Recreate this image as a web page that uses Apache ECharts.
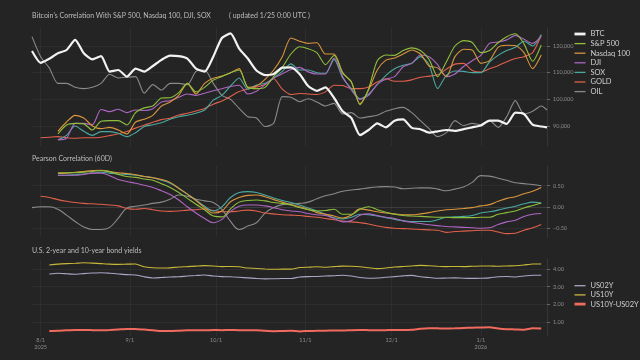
<!DOCTYPE html>
<html><head><meta charset="utf-8">
<script src="https://cdn.jsdelivr.net/npm/echarts@6/dist/echarts.min.js"></script>
<style>html,body{margin:0;padding:0;background:#242424;}#c{width:640px;height:360px;}</style>
</head><body><div id="c"></div>
<script>
// ---------- data ----------
const dates = ['2025-07-29','2025-08-01','2025-08-04','2025-08-07','2025-08-10','2025-08-13','2025-08-16','2025-08-19','2025-08-22','2025-08-25','2025-08-28','2025-08-31','2025-09-03','2025-09-06','2025-09-09','2025-09-12','2025-09-15','2025-09-18','2025-09-21','2025-09-24','2025-09-27','2025-09-30','2025-10-03','2025-10-06','2025-10-09','2025-10-12','2025-10-15','2025-10-18','2025-10-21','2025-10-24','2025-10-27','2025-10-30','2025-11-02','2025-11-05','2025-11-08','2025-11-11','2025-11-14','2025-11-17','2025-11-20','2025-11-23','2025-11-26','2025-11-29','2025-12-02','2025-12-05','2025-12-08','2025-12-11','2025-12-14','2025-12-17','2025-12-20','2025-12-23','2025-12-26','2025-12-29','2026-01-01','2026-01-04','2026-01-07','2026-01-10','2026-01-13','2026-01-16','2026-01-19','2026-01-22','2026-01-24'];

// price panel (BTC in USD, others rebased onto BTC scale)
const btc = [118100,113700,115200,117300,118500,122300,117300,115000,116200,110400,111000,108500,111500,110400,112500,114800,116400,116200,115300,111500,110400,116000,123000,124700,119000,115300,110800,109100,109500,111900,112000,109500,105000,103200,104500,100500,95500,93000,86600,88500,91000,89500,92000,92500,89300,88800,87500,88000,88500,88200,88800,89500,90200,92000,92000,90800,95000,94500,90500,89800,89500];
const spx = [null,null,null,87000,90400,91000,90800,88500,91800,92000,92000,90400,95000,96800,97500,100500,100600,102500,106000,102800,104500,107200,108600,110000,111000,104500,104000,104500,108500,112000,117000,119700,119000,117500,113000,116500,110000,106500,98000,104000,114500,116600,116500,118300,119300,118300,115000,108500,114000,120000,122000,121300,117500,118300,121200,123500,124600,120800,114300,120400,null];
const ndx = [null,null,null,88000,91500,94000,93000,90000,89000,89500,88500,87000,91500,92500,94000,97500,99000,101500,106000,102000,106000,107900,108700,110000,111500,104500,105000,107500,111000,116000,123000,121800,121000,121200,117000,117000,109800,106500,98300,103500,111000,114700,115500,117000,118500,117000,112500,111800,108500,116000,118800,118500,113500,114500,119500,120300,120200,117500,111500,116600,null];
const dji = [null,null,null,84800,85400,91000,91000,90500,96200,95400,96300,95000,96000,95800,96500,99000,99500,100800,102000,101500,102300,103200,104000,104800,105300,102000,103000,105500,108000,109600,111200,112000,110300,109500,109500,115500,108500,103500,100000,101500,105600,107500,108500,112200,113500,116600,116000,113000,108500,109500,112300,114500,116500,121000,121500,122300,124000,122500,121000,123500,null];
const sox = [null,null,null,84800,86500,90000,88000,86500,87900,87900,87300,86000,87500,89800,90500,91200,92500,93500,94000,94800,96000,99700,101500,105000,108000,103800,105400,106000,108000,110500,113300,111000,111000,110000,109800,115000,108000,104000,100200,102000,105500,109000,111500,112800,113500,116000,113000,104000,109000,110600,110500,110000,110000,114000,116500,118300,119500,121800,120000,124300,null];
const gold = [null,85600,85800,86000,85600,85400,85600,85600,85800,86400,87100,87900,89200,90300,91400,92400,92900,94100,94800,95600,96600,98200,99400,101100,102900,103900,104600,105600,107700,103800,101800,102200,102000,101800,102800,105300,105200,104000,104000,104600,106500,107700,106800,106800,107300,108300,108700,109200,111300,113200,113500,110800,110200,111500,112600,114100,115300,116000,117500,124000,null];
const oil = [123500,116000,111800,106000,106000,104500,104000,104500,106000,109400,108000,108300,108500,102300,105500,103500,106000,106000,105500,110500,111000,106000,101500,100000,96600,93500,93000,89800,91000,101000,100800,99100,100200,99000,97500,98500,94500,95000,93000,93500,94000,95500,96500,97000,95000,92000,89000,86000,87500,92000,90200,91000,90500,92000,89500,93500,99500,94500,95500,97500,96000];

// Pearson correlation (60D) with BTC
const corrSpx = [null,null,null,0.81,0.81,0.81,0.82,0.84,0.86,0.83,0.77,0.72,0.70,0.66,0.63,0.55,0.46,0.34,0.20,0.06,-0.07,-0.22,-0.24,-0.05,0.11,0.15,0.16,0.14,0.10,0.08,0.04,-0.02,-0.07,-0.10,-0.09,-0.06,-0.18,-0.18,-0.06,0.0,-0.07,-0.13,-0.18,-0.21,-0.22,-0.23,-0.24,-0.25,-0.25,-0.26,-0.26,-0.26,-0.25,-0.25,-0.18,-0.14,-0.10,-0.03,0.03,0.09,null];
const corrNdx = [null,null,null,0.79,0.80,0.82,0.84,0.86,0.87,0.84,0.81,0.79,0.76,0.72,0.69,0.65,0.58,0.44,0.30,0.15,-0.02,-0.15,-0.10,0.12,0.22,0.27,0.28,0.24,0.17,0.11,0.05,0.0,-0.06,-0.14,-0.18,-0.22,-0.27,-0.20,-0.05,-0.08,-0.12,-0.15,-0.17,-0.19,-0.19,-0.17,-0.14,-0.10,-0.07,-0.06,-0.04,-0.02,0.02,0.05,0.13,0.20,0.24,0.31,0.37,0.46,null];
const corrDji = [null,null,null,0.75,0.75,0.75,0.77,0.80,0.80,0.74,0.65,0.60,0.56,0.51,0.46,0.38,0.29,0.16,0.0,-0.15,-0.28,-0.38,-0.30,-0.11,0.01,0.04,0.04,0.02,-0.02,-0.07,-0.10,-0.12,-0.16,-0.19,-0.21,-0.28,-0.36,-0.33,-0.20,-0.17,-0.21,-0.25,-0.28,-0.34,-0.37,-0.40,-0.43,-0.45,-0.47,-0.48,-0.49,-0.50,-0.51,-0.50,-0.42,-0.36,-0.32,-0.23,-0.18,-0.16,null];
const corrSox = [null,null,null,0.75,0.75,0.76,0.78,0.80,0.82,0.80,0.78,0.77,0.75,0.72,0.69,0.63,0.56,0.44,0.30,0.16,0.01,-0.10,0.0,0.22,0.34,0.36,0.34,0.28,0.21,0.15,0.10,0.04,-0.03,-0.10,-0.18,-0.26,-0.29,-0.25,-0.18,-0.19,-0.22,-0.26,-0.30,-0.33,-0.35,-0.35,-0.35,-0.31,-0.25,-0.24,-0.23,-0.21,-0.15,-0.12,-0.08,-0.03,0.01,0.07,0.11,0.09,null];
const corrGold = [null,0.25,0.22,0.17,0.13,0.10,0.08,0.07,0.06,0.04,0.02,-0.04,-0.06,-0.04,-0.07,-0.10,-0.11,-0.10,-0.08,-0.07,-0.05,-0.09,-0.12,-0.12,-0.10,-0.08,-0.10,-0.15,-0.17,-0.19,-0.20,-0.21,-0.23,-0.25,-0.28,-0.31,-0.34,-0.36,-0.38,-0.41,-0.46,-0.49,-0.51,-0.52,-0.53,-0.54,-0.55,-0.56,-0.61,-0.59,-0.58,-0.57,-0.56,-0.56,-0.60,-0.64,-0.63,-0.56,-0.50,-0.42,null];
const corrOil = [-0.02,0.0,0.0,-0.06,-0.20,-0.35,-0.48,-0.54,-0.54,-0.49,-0.27,-0.03,0.01,0.04,0.08,0.11,0.18,0.28,0.25,0.18,0.14,0.10,-0.06,-0.35,-0.54,-0.46,-0.38,-0.15,-0.02,0.05,0.07,0.08,0.11,0.19,0.26,0.31,0.37,0.40,0.42,0.45,0.47,0.48,0.47,0.43,0.44,0.45,0.45,0.42,0.38,0.42,0.47,0.58,0.74,0.73,0.68,0.63,0.57,0.55,0.53,0.50,null];

// U.S. bond yields (%)
const us02y = [null,null,3.72,3.76,3.73,3.70,3.74,3.77,3.79,3.76,3.72,3.68,3.66,3.56,3.49,3.52,3.55,3.56,3.60,3.63,3.66,3.60,3.57,3.56,3.53,3.50,3.46,3.44,3.45,3.46,3.46,3.55,3.57,3.58,3.60,3.62,3.65,3.60,3.52,3.48,3.49,3.53,3.57,3.61,3.64,3.56,3.52,3.48,3.49,3.50,3.48,3.47,3.48,3.50,3.56,3.58,3.55,3.60,3.65,3.65,null];
const us10y = [null,null,4.22,4.27,4.30,4.32,4.35,4.33,4.30,4.27,4.26,4.27,4.28,4.12,4.07,4.05,4.06,4.11,4.13,4.16,4.19,4.17,4.13,4.14,4.12,4.05,4.03,4.00,3.98,3.99,3.99,4.08,4.10,4.12,4.10,4.13,4.16,4.15,4.12,4.07,4.02,4.05,4.11,4.14,4.17,4.20,4.18,4.15,4.13,4.14,4.13,4.15,4.17,4.17,4.15,4.17,4.18,4.22,4.28,4.28,null];
const spread = [null,null,0.51,0.52,0.55,0.57,0.57,0.56,0.55,0.57,0.60,0.63,0.63,0.59,0.55,0.51,0.51,0.53,0.55,0.56,0.55,0.57,0.56,0.57,0.56,0.56,0.55,0.52,0.50,0.51,0.52,0.49,0.51,0.53,0.53,0.54,0.54,0.56,0.57,0.56,0.55,0.56,0.57,0.57,0.58,0.64,0.67,0.66,0.65,0.66,0.68,0.70,0.71,0.72,0.65,0.61,0.60,0.58,0.66,0.65,null];

// axis ticks
const monthTicks = ['2025-08-01','2025-09-01','2025-10-01','2025-11-01','2025-12-01','2026-01-01'];
const monthLabels = ['8/1\n2025','9/1','10/1','11/1','12/1','1/1\n2026'];
const priceTicks = [90000,100000,110000,120000];
const corrTicks = [-0.5,0,0.5];
const yieldTicks = [1,2,3,4];

// ---------- chart ----------
const F = 'Lato, "Noto Sans", sans-serif';
const ts = s => { const p = s.split('-').map(Number); return Date.UTC(p[0], p[1]-1, p[2]); };
const pair = arr => dates.map((d, i) => [ts(d), arr[i]]);
const tickTs = monthTicks.map(ts);
const GRIDC = '#2e2e2e';
const LBL = '#8c8c8c';

function xAx(g, labels) {
  return {
    type: 'value', gridIndex: g, min: ts('2025-07-29'), max: ts('2026-01-24'),
    axisLine: { show: g === 1, onZero: true, lineStyle: { color: '#3c3c3c', width: 1 } },
    axisTick: { show: false, customValues: tickTs },
    splitLine: { show: true, lineStyle: { color: GRIDC, width: 1 } },
    axisLabel: { show: labels, customValues: tickTs, showMinLabel: true, showMaxLabel: true,
      formatter: v => { const k = tickTs.indexOf(v); return k >= 0 ? monthLabels[k] : ''; },
      color: LBL, fontSize: 5.5, lineHeight: 6.7, margin: 1, fontFamily: F }
  };
}
function yAx(g, min, max, ticks, fmt) {
  return {
    type: 'value', gridIndex: g, position: 'right', min: min, max: max,
    axisLine: { show: true, lineStyle: { color: '#363636', width: 1 } },
    axisTick: { show: true, length: 3, customValues: ticks, lineStyle: { color: '#666' } },
    splitLine: { show: true, lineStyle: { color: GRIDC, width: 1 } },
    axisLabel: { customValues: ticks, formatter: fmt, color: LBL, fontSize: 5.5, margin: 6, fontFamily: F }
  };
}
function line(name, data, color, xi, width, z, smooth) {
  return { name: name, type: 'line', xAxisIndex: xi, yAxisIndex: xi, data: pair(data),
    showSymbol: false, symbol: 'none', smooth: smooth, connectNulls: false, z: z || 2,
    lineStyle: { color: color, width: width }, itemStyle: { color: color } };
}
const C = { btc: '#f2f2f2', spx: '#8fbf3c', ndx: '#d9963d', dji: '#ad66c2', sox: '#4aaaa0', gold: '#e0604c', oil: '#8a8a8a',
  u2: '#a8a6c6', u10: '#c8b83a', sp: '#f06a5e' };
const titleStyle = { color: '#bdbdbd', fontSize: 7, fontWeight: 'normal', fontFamily: F };
const thin = 'path://M0,0H11V1.3H0Z', thick = 'path://M0,0H11V2.8H0Z';
const legItem = (name, icon) => ({ name: name, icon: icon, itemStyle: { borderWidth: 0 } });

const option = {
  backgroundColor: '#242424',
  animation: false,
  textStyle: { fontFamily: F },
  title: [
    { text: "Bitcoin's Correlation With S&P 500, Nasdaq 100, DJI, SOX", left: 32, top: 12, padding: 0, textStyle: titleStyle },
    { text: '( updated 1/25 0:00 UTC )', left: 229, top: 12, padding: 0, textStyle: titleStyle },
    { text: 'Pearson Correlation (60D)', left: 32, top: 155.5, padding: 0, textStyle: titleStyle },
    { text: 'U.S. 2-year and 10-year bond yields', left: 32, top: 247, padding: 0, textStyle: titleStyle }
  ],
  legend: [
    { data: [legItem('BTC', thick), legItem('S&P 500', thin), legItem('Nasdaq 100', thin), legItem('DJI', thin),
             legItem('SOX', thin), legItem('GOLD', thin), legItem('OIL', thin)],
      orient: 'vertical', left: 574.5, top: 29.5, itemWidth: 11, itemHeight: 9, itemGap: 0.6, padding: 0,
      itemStyle: { borderWidth: 0 },
      textStyle: { color: '#cfcfcf', fontSize: 7.5, lineHeight: 9, fontFamily: F } },
    { data: [legItem('US02Y', thin), legItem('US10Y', thin), legItem('US10Y-US02Y', thick)],
      orient: 'vertical', left: 574.5, top: 281.2, itemWidth: 11, itemHeight: 9, itemGap: 0.2, padding: 0,
      itemStyle: { borderWidth: 0 },
      textStyle: { color: '#cfcfcf', fontSize: 7.5, lineHeight: 9, fontFamily: F } }
  ],
  grid: [
    { left: 32, right: 93, top: 28, height: 118 },
    { left: 32, right: 93, top: 166, height: 71 },
    { left: 32, right: 93, top: 259, height: 77 }
  ],
  xAxis: [xAx(0, false), xAx(1, false), xAx(2, true)],
  yAxis: [
    yAx(0, 82500, 126750, priceTicks, v => v.toLocaleString('en-US')),
    yAx(1, -0.72, 0.97, corrTicks, v => (v < 0 ? '\u2212' : '') + Math.abs(v).toFixed(2)),
    yAx(2, 0.23, 4.56, yieldTicks, v => v.toFixed(2))
  ],
  series: [
    line('OIL', oil, C.oil, 0, 1.1, 2, 0.25),
    line('GOLD', gold, C.gold, 0, 1.1, 2, 0.25),
    line('SOX', sox, C.sox, 0, 1.1, 2, 0.25),
    line('DJI', dji, C.dji, 0, 1.1, 2, 0.25),
    line('Nasdaq 100', ndx, C.ndx, 0, 1.1, 2, 0.25),
    line('S&P 500', spx, C.spx, 0, 1.1, 2, 0.25),
    line('BTC', btc, C.btc, 0, 2.2, 5, 0.2),
    line('OIL', corrOil, C.oil, 1, 1.1, 2, 0.4),
    line('GOLD', corrGold, C.gold, 1, 1.1, 2, 0.4),
    line('SOX', corrSox, C.sox, 1, 1.1, 2, 0.4),
    line('DJI', corrDji, C.dji, 1, 1.1, 2, 0.4),
    line('Nasdaq 100', corrNdx, C.ndx, 1, 1.1, 2, 0.4),
    line('S&P 500', corrSpx, C.spx, 1, 1.1, 2, 0.4),
    line('US02Y', us02y, C.u2, 2, 1.1, 2, 0.2),
    line('US10Y', us10y, C.u10, 2, 1.1, 2, 0.2),
    line('US10Y-US02Y', spread, C.sp, 2, 2, 2, 0.2)
  ]
};
const chart = echarts.init(document.getElementById('c'));
chart.setOption(option);
</script>
</body></html>
